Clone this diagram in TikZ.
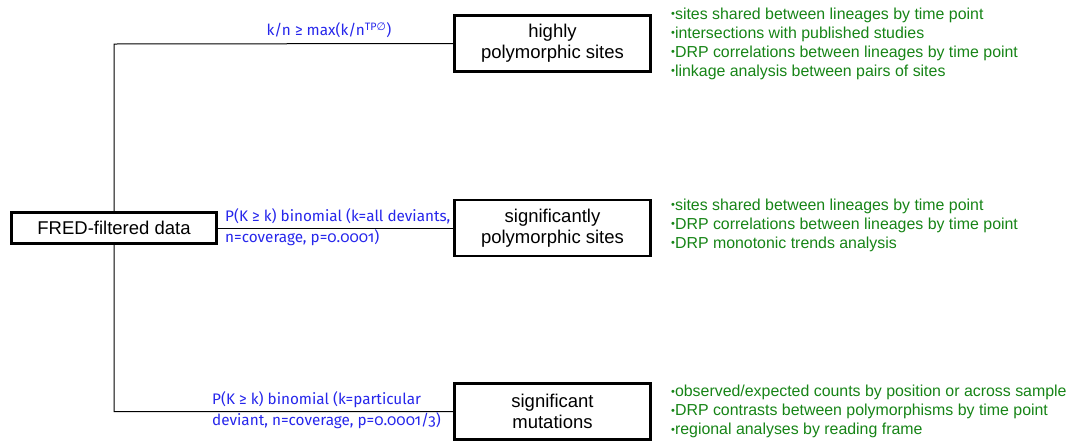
\documentclass[tikz,border=0pt]{standalone}
\usepackage{fontspec}
\setmainfont{Liberation Sans}
\newfontfamily\labelfont[RawFeature=+onum]{Fira Sans}
\newfontfamily\symfont{DejaVu Sans}
\usetikzlibrary{backgrounds}
\definecolor{labelblue}{RGB}{38,38,235}
\definecolor{notegreen}{RGB}{22,132,22}
\newcommand{\bul}{{\fontsize{11}{11}\selectfont\raisebox{0.2ex}{•}}}
\tikzset{
  stagebox/.style={draw=black, line width=2.6pt, fill=white, inner sep=0pt,
    align=center, font=\fontsize{18.5}{21}\selectfont},
  link/.style={draw=black, line width=1pt},
  cond/.style={text=labelblue, inner sep=0pt, align=left,
    font=\labelfont\fontsize{15.3}{21.5}\selectfont},
  notes/.style={text=notegreen, inner sep=0pt, align=left, anchor=west,
    font=\fontsize{15.9}{19}\selectfont},
}
\begin{document}
\begin{tikzpicture}[x=1pt,y=-1pt]
\useasboundingbox (0,0) rectangle (1067,440);

% junction corners of the tree
\coordinate (tl) at (114,44);
\coordinate (bl) at (114,411.5);

% stage boxes
\node[stagebox, minimum width=205, minimum height=31] (fred) at (114,228) {FRED-filtered data};
\node[stagebox, minimum width=196, minimum height=56] (hi) at (552.5,43.5) {highly\\polymorphic sites};
\node[stagebox, minimum width=196, minimum height=56] (sig) at (552.5,228) {significantly\\polymorphic sites};
\node[stagebox, minimum width=196, minimum height=56] (mut) at (552.5,411.5) {significant\\mutations};

% connectors, kept beneath the boxes
\begin{scope}[on background layer]
\draw[link] (hi.west) -- (tl) -- (bl) -- (mut.west);
\draw[link] (fred.east) -- (sig.west);
\end{scope}

% filter criteria
\node[cond, anchor=center] (c1) at (329,30) {k/n ≥ max(k/n\textsuperscript{TP{\symfont ∅}})};
\node[cond, anchor=north west] (c2) at (225,208) {P(K ≥ k) binomial (k=all deviants,\\n=coverage, p=0.0001)};
\node[cond, anchor=north west] (c3) at (212,391) {P(K ≥ k) binomial (k=particular\\deviant, n=coverage, p=0.0001/3)};

% downstream analyses
\node[notes] (n1) at (671,43.5) {\bul sites shared between lineages by time point\\
\bul intersections with published studies\\
\bul DRP correlations between lineages by time point\\
\bul linkage analysis between pairs of sites};
\node[notes] (n2) at (671,225) {\bul sites shared between lineages by time point\\
\bul DRP correlations between lineages by time point\\
\bul DRP monotonic trends analysis};
\node[notes] (n3) at (671,411.5) {\bul observed/expected counts by position or across sample\\
\bul DRP contrasts between polymorphisms by time point\\
\bul regional analyses by reading frame};
\end{tikzpicture}
\end{document}
